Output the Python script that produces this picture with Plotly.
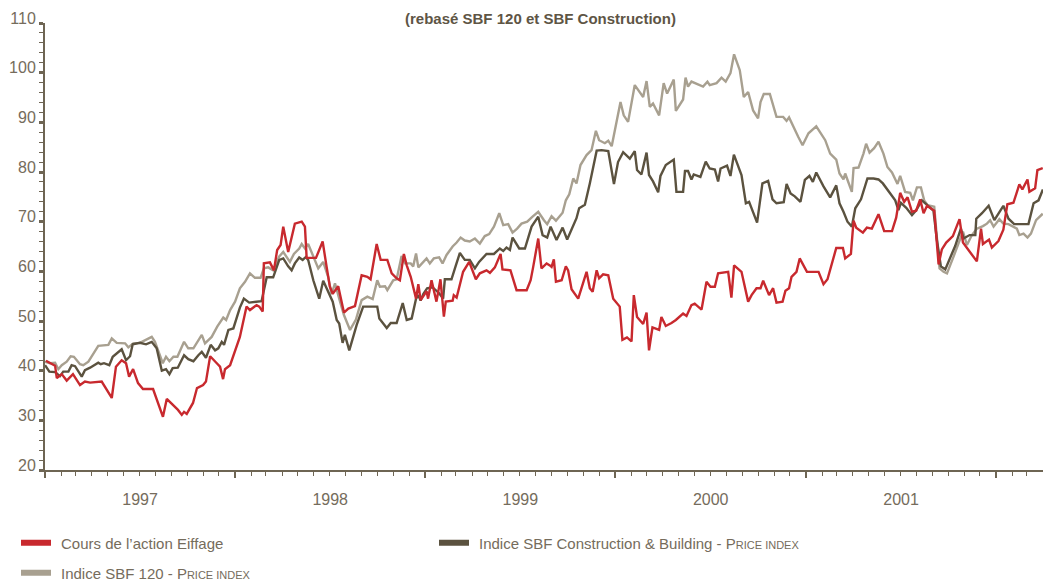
import plotly.graph_objects as go
import pandas as pd

# Decimal-year time stamps and values
red_t = [1997.005,1997.053,1997.062,1997.088,1997.114,1997.147,1997.184,1997.210,1997.237,1997.298,
         1997.351,1997.373,1997.403,1997.426,1997.442,1997.463,1997.489,1997.515,1997.568,1997.620,
         1997.640,1997.666,1997.699,1997.719,1997.731,1997.745,1997.778,1997.799,1997.831,1997.846,
         1997.868,1997.903,1997.920,1997.936,1997.946,1997.973,1998.025,1998.060,1998.078,1998.113,
         1998.127,1998.145,1998.151,1998.183,1998.204,1998.221,1998.239,1998.253,1998.279,1998.314,
         1998.350,1998.367,1998.376,1998.425,1998.460,1998.481,1998.498,1998.513,1998.542,1998.572,
         1998.595,1998.630,1998.665,1998.695,1998.712,1998.744,1998.765,1998.800,1998.823,1998.849,
         1998.866,1998.887,1998.902,1998.923,1998.951,1998.963,1998.975,1998.993,1999.007,1999.015,
         1999.033,1999.059,1999.080,1999.098,1999.108,1999.144,1999.150,1999.165,1999.186,1999.199,
         1999.231,1999.243,1999.266,1999.287,1999.322,1999.340,1999.366,1999.396,1999.406,1999.448,
         1999.480,1999.533,1999.554,1999.567,1999.594,1999.611,1999.638,1999.655,1999.664,1999.676,
         1999.687,1999.717,1999.739,1999.751,1999.769,1999.804,1999.827,1999.848,1999.865,1999.880,
         1999.901,1999.914,1999.935,1999.962,1999.988,2000.023,2000.037,2000.061,2000.085,2000.097,
         2000.114,2000.146,2000.164,2000.177,2000.195,2000.230,2000.242,2000.265,2000.295,2000.318,
         2000.356,2000.374,2000.400,2000.417,2000.453,2000.479,2000.500,2000.523,2000.540,2000.593,
         2000.610,2000.624,2000.663,2000.698,2000.716,2000.742,2000.763,2000.777,2000.808,2000.829,
         2000.847,2000.879,2000.894,2000.913,2000.926,2000.952,2000.969,2001.005,2001.066,2001.092,
         2001.113,2001.159,2001.194,2001.206,2001.236,2001.250,2001.264,2001.299,2001.320,2001.346,
         2001.381,2001.411,2001.452,2001.474,2001.495,2001.516,2001.534,2001.557,2001.579,2001.600,
         2001.618,2001.636,2001.674,2001.697,2001.714,2001.737,2001.772,2001.807,2001.825,2001.860,
         2001.898,2001.920,2001.930,2001.962,2001.977,2002.012,2002.038,2002.059,2002.091,2002.122,
         2002.138,2002.165,2002.175,2002.205,2002.217,2002.245]
red_v = [42.0,41.0,38.5,39.3,38.0,39.3,37.1,37.8,37.6,37.8,
         34.5,40.8,42.1,41.5,38.8,40.3,37.5,36.3,36.3,30.7,
         34.3,33.3,32.1,31.1,31.7,31.3,33.5,36.5,37.1,37.8,
         42.9,41.5,40.8,38.3,40.3,41.1,46.8,52.9,52.2,53.2,
         52.9,51.9,61.6,61.8,60.2,64.3,65.3,69.0,63.9,69.6,
         70.0,69.0,62.7,62.7,66.0,60.9,56.9,55.5,57.0,51.7,
         52.5,53.0,59.2,58.9,58.4,65.5,62.3,62.3,59.6,58.6,
         58.2,63.5,61.2,58.9,54.5,57.4,54.2,55.2,56.0,54.5,
         58.2,53.9,58.4,50.9,53.9,54.1,55.2,54.7,58.2,59.9,
         61.9,60.6,58.4,59.6,60.2,59.7,60.8,63.5,60.4,60.2,
         56.2,56.2,58.2,60.8,66.6,60.6,61.6,61.2,60.9,62.4,
         57.9,58.2,61.0,60.2,56.4,54.5,57.6,59.9,56.6,55.9,
         60.2,58.6,59.4,59.2,54.5,52.9,46.2,46.7,45.9,55.2,
         50.8,49.4,51.7,44.1,48.7,48.2,50.8,49.0,49.6,50.2,
         51.5,51.0,53.2,53.5,52.3,57.9,56.9,56.9,59.6,59.9,
         54.7,61.2,59.9,53.9,55.2,56.6,56.6,58.1,55.2,56.6,
         53.7,53.9,56.1,56.6,58.9,59.9,62.6,59.9,59.9,57.4,
         58.4,64.7,64.7,62.6,63.5,70.2,68.8,67.8,68.8,68.6,
         71.5,68.1,68.1,70.8,75.8,74.0,74.9,72.0,72.2,74.5,
         71.7,73.2,72.2,61.4,64.4,65.8,67.1,70.5,65.8,64.0,
         62.0,68.6,65.5,66.4,64.8,66.1,68.4,73.5,73.8,77.5,
         76.5,78.5,76.0,76.7,80.4,80.8]

dark_t = [1997.000,1997.023,1997.053,1997.079,1997.096,1997.123,1997.140,1997.158,1997.193,1997.210,
          1997.237,1997.280,1997.293,1997.310,1997.338,1997.356,1997.403,1997.426,1997.447,1997.461,
          1997.499,1997.531,1997.561,1997.587,1997.614,1997.636,1997.654,1997.671,1997.698,1997.731,
          1997.753,1997.780,1997.806,1997.824,1997.846,1997.871,1997.894,1997.911,1997.929,1997.941,
          1997.964,1997.990,1998.025,1998.046,1998.074,1998.121,1998.139,1998.166,1998.200,1998.232,
          1998.253,1998.279,1998.297,1998.314,1998.337,1998.355,1998.372,1998.384,1998.411,1998.442,
          1998.463,1998.513,1998.534,1998.547,1998.565,1998.577,1998.600,1998.639,1998.673,1998.747,
          1998.758,1998.797,1998.818,1998.849,1998.866,1998.881,1998.902,1998.928,1998.951,1998.963,
          1998.975,1998.989,1999.010,1999.038,1999.073,1999.094,1999.103,1999.138,1999.161,1999.182,
          1999.208,1999.234,1999.261,1999.283,1999.322,1999.361,1999.392,1999.410,1999.427,1999.445,
          1999.459,1999.494,1999.524,1999.559,1999.594,1999.617,1999.641,1999.659,1999.690,1999.722,
          1999.746,1999.774,1999.795,1999.809,1999.839,1999.865,1999.901,1999.927,1999.962,1999.992,
          2000.014,2000.041,2000.076,2000.102,2000.114,2000.137,2000.164,2000.177,2000.198,2000.225,
          2000.237,2000.265,2000.307,2000.321,2000.356,2000.366,2000.382,2000.400,2000.412,2000.447,
          2000.475,2000.496,2000.523,2000.540,2000.553,2000.587,2000.605,2000.623,2000.663,2000.686,
          2000.703,2000.745,2000.773,2000.803,2000.826,2000.847,2000.885,2000.900,2000.921,2000.943,
          2000.973,2000.996,2001.018,2001.036,2001.054,2001.092,2001.127,2001.159,2001.176,2001.197,
          2001.218,2001.241,2001.259,2001.289,2001.323,2001.355,2001.381,2001.404,2001.443,2001.469,
          2001.486,2001.499,2001.527,2001.557,2001.579,2001.609,2001.639,2001.670,2001.688,2001.709,
          2001.732,2001.754,2001.784,2001.814,2001.828,2001.860,2001.890,2001.895,2001.925,2001.960,
          2001.990,2002.038,2002.065,2002.095,2002.170,2002.197,2002.223,2002.246]
dark_v = [41.1,39.8,39.7,38.9,39.8,39.8,41.1,40.9,38.8,40.1,
          40.6,41.6,41.3,41.5,41.1,42.8,44.3,42.1,42.9,45.3,
          45.6,45.3,45.8,44.5,40.0,40.3,39.3,40.5,40.6,43.1,
          42.3,41.9,43.1,43.8,42.6,45.2,44.1,44.5,45.8,45.2,
          48.2,48.5,52.7,54.5,53.7,53.9,54.0,58.8,58.8,62.3,
          62.6,61.0,60.2,61.6,62.8,62.3,62.9,62.3,58.2,54.5,
          58.1,53.9,50.2,49.5,45.6,47.2,44.1,49.2,52.9,52.9,
          50.5,48.6,49.6,49.6,51.9,53.6,50.2,50.5,54.5,55.2,
          54.1,55.4,56.6,56.8,55.6,54.5,58.4,58.4,61.2,63.7,
          62.3,62.3,60.6,61.9,63.5,63.5,64.6,64.1,64.8,64.3,
          66.8,64.6,64.6,69.0,71.0,67.3,66.8,69.0,66.3,68.8,
          66.4,69.0,70.7,72.7,73.4,77.7,84.3,84.4,84.2,77.6,
          82.0,84.0,82.7,84.2,80.4,79.5,83.9,79.4,78.1,75.9,
          79.2,81.4,82.5,76.0,76.0,80.2,80.2,78.5,79.5,79.0,
          82.1,80.7,80.5,78.1,80.7,81.3,79.2,83.5,79.4,73.7,
          74.0,69.8,77.7,78.2,74.5,73.7,73.9,77.6,75.7,75.1,
          74.0,78.4,79.2,78.0,79.9,77.1,74.9,77.3,73.7,72.0,
          70.0,69.0,72.7,74.5,78.7,78.7,78.5,77.7,75.7,74.3,
          72.3,73.8,72.8,71.3,72.3,74.3,73.3,72.2,66.3,61.0,
          60.4,62.3,65.1,68.6,66.6,67.3,67.3,70.6,71.7,73.2,
          70.3,73.2,70.6,69.5,69.5,73.7,74.3,76.5]

gray_t = [1997.000,1997.026,1997.053,1997.070,1997.088,1997.114,1997.135,1997.152,1997.184,1997.201,
          1997.228,1997.280,1997.333,1997.351,1997.377,1997.421,1997.438,1997.464,1997.499,1997.535,
          1997.561,1997.578,1997.605,1997.619,1997.636,1997.654,1997.675,1997.696,1997.731,1997.753,
          1997.780,1997.801,1997.824,1997.841,1997.876,1997.906,1997.937,1997.952,1997.973,1997.999,
          1998.025,1998.052,1998.078,1998.104,1998.134,1998.151,1998.174,1998.200,1998.232,1998.253,
          1998.288,1998.309,1998.337,1998.350,1998.367,1998.384,1998.411,1998.437,1998.463,1998.489,
          1998.507,1998.525,1998.547,1998.572,1998.604,1998.635,1998.665,1998.695,1998.723,1998.747,
          1998.761,1998.788,1998.800,1998.831,1998.849,1998.875,1998.893,1998.923,1998.936,1998.951,
          1998.963,1998.989,1999.007,1999.024,1999.045,1999.073,1999.091,1999.112,1999.144,1999.165,
          1999.186,1999.208,1999.234,1999.261,1999.287,1999.313,1999.336,1999.361,1999.389,1999.410,
          1999.436,1999.459,1999.483,1999.506,1999.536,1999.564,1999.594,1999.624,1999.641,1999.664,
          1999.687,1999.722,1999.739,1999.757,1999.778,1999.795,1999.816,1999.848,1999.874,1999.897,
          1999.914,1999.944,1999.962,1999.980,2000.027,2000.044,2000.067,2000.102,2000.146,2000.164,
          2000.181,2000.198,2000.230,2000.254,2000.272,2000.307,2000.318,2000.356,2000.369,2000.382,
          2000.400,2000.461,2000.484,2000.496,2000.532,2000.558,2000.580,2000.605,2000.624,2000.654,
          2000.675,2000.698,2000.724,2000.750,2000.763,2000.780,2000.812,2000.847,2000.882,2000.900,
          2000.913,2000.961,2000.984,2001.013,2001.054,2001.101,2001.127,2001.159,2001.176,2001.197,
          2001.206,2001.241,2001.250,2001.276,2001.302,2001.316,2001.334,2001.358,2001.381,2001.407,
          2001.428,2001.452,2001.481,2001.495,2001.521,2001.548,2001.562,2001.583,2001.604,2001.621,
          2001.639,2001.674,2001.702,2001.723,2001.741,2001.772,2001.797,2001.825,2001.846,2001.872,
          2001.898,2001.930,2001.951,2001.968,2001.986,2002.017,2002.038,2002.065,2002.109,2002.122,
          2002.144,2002.165,2002.183,2002.210,2002.245]
gray_v = [41.8,41.5,41.6,40.3,41.1,41.8,42.9,42.8,41.3,41.1,
          41.8,45.0,45.2,46.5,45.6,45.5,44.7,45.5,45.6,46.3,
          46.8,45.8,42.8,41.5,42.8,41.9,42.8,42.8,45.8,44.5,
          44.5,45.8,47.2,45.5,46.8,48.9,50.7,50.2,52.2,53.9,
          56.6,57.9,59.6,58.7,58.7,60.6,60.8,60.2,63.0,63.9,
          61.9,63.5,64.6,65.5,64.6,65.5,62.9,60.6,61.9,58.9,
          55.4,57.6,54.5,51.2,48.2,50.3,54.2,54.9,54.4,58.2,
          56.9,57.0,56.2,58.2,58.4,63.1,61.6,61.6,61.0,63.6,
          60.8,61.9,62.6,61.6,62.6,62.8,61.6,63.3,65.0,65.8,
          66.8,66.2,66.0,66.6,65.6,67.1,67.5,69.0,71.7,69.3,
          69.5,67.8,68.6,69.6,70.0,71.0,72.0,70.3,69.5,71.1,
          70.2,71.8,74.3,75.5,78.7,77.7,81.4,83.4,84.4,88.3,
          86.4,85.8,86.3,85.2,94.1,91.4,90.1,97.5,95.1,98.3,
          93.1,93.8,91.4,97.9,95.8,98.6,92.3,94.6,99.0,97.2,
          98.2,97.2,98.2,97.5,97.9,99.0,98.2,99.9,103.7,100.5,
          95.1,96.1,92.4,90.8,94.1,95.7,95.7,91.1,91.1,90.3,
          91.0,87.1,85.4,87.8,89.2,86.4,83.7,82.5,79.7,78.5,
          79.7,76.0,80.8,80.9,83.7,85.7,83.9,84.8,86.1,83.7,
          81.0,79.9,77.6,79.2,76.0,75.8,74.3,76.9,76.9,74.3,
          73.3,73.0,60.6,59.9,59.6,62.6,65.1,68.0,65.3,67.3,
          68.6,69.1,69.6,70.3,69.0,70.5,69.6,69.5,68.6,67.3,
          67.6,66.8,67.6,70.3,71.6]

series_names = [
    "\u2004Cours de l’action Eiffage",
    "\u2004Indice SBF Construction &amp; Building - P<span style='font-size:11px'>RICE INDEX</span>",
    "\u2004Indice SBF 120 - P<span style='font-size:11px'>RICE INDEX</span>",
]
y_ticks = [20, 30, 40, 50, 60, 70, 80, 90, 100, 110]
title_text = "<b>(rebasé SBF 120 et SBF Construction)</b>"

RED = "#c8292e"
DARK = "#5b523f"
GRAY = "#a8a090"
AXIS = "#6e6553"
TXT = "#756c5c"
FONT = "Liberation Sans, Arial, sans-serif"


def to_dates(ts):
    out = []
    for t in ts:
        y = int(t)
        out.append(pd.Timestamp(f"{y}-01-01") + pd.Timedelta(days=(t - y) * 365.25))
    return out


fig = go.Figure()
# draw order: gray (back), dark, red (front)
for t, v, c in [(gray_t, gray_v, GRAY), (dark_t, dark_v, DARK), (red_t, red_v, RED)]:
    fig.add_trace(go.Scatter(x=to_dates(t), y=v, mode="lines",
                             line=dict(color=c, width=2.4), showlegend=False,
                             hoverinfo="skip"))

# legend entries
for name, c, lg in [(series_names[0], RED, "legend"), (series_names[1], DARK, "legend"),
                    (series_names[2], GRAY, "legend2")]:
    fig.add_trace(go.Scatter(x=[None], y=[None], mode="lines", name=name,
                             line=dict(color=c, width=6), legend=lg))

fig.add_annotation(text=title_text, xref="paper", yref="paper",
                   x=(540 - 45) / 998, y=1 + (23 - 18) / 447,
                   xanchor="center", yanchor="middle", showarrow=False,
                   font=dict(family=FONT, size=15, color="#5e5545"))

fig.update_layout(
    width=1043, height=581,
    margin=dict(l=45, r=0, t=23, b=111, autoexpand=False),
    paper_bgcolor="white", plot_bgcolor="white",
    font=dict(family=FONT, color=TXT, size=15),
    legend=dict(orientation="h", xref="container", yref="container",
                x=16 / 1043, y=1 - 543 / 581, xanchor="left", yanchor="middle",
                entrywidth=373, entrywidthmode="pixels",
                font=dict(family=FONT, size=15, color=TXT),
                bgcolor="rgba(0,0,0,0)", borderwidth=0),
    legend2=dict(orientation="h", xref="container", yref="container",
                 x=16 / 1043, y=1 - 573 / 581, xanchor="left", yanchor="middle",
                 font=dict(family=FONT, size=15, color=TXT),
                 bgcolor="rgba(0,0,0,0)", borderwidth=0),
    xaxis=dict(
        type="date", range=["1997-01-01", "2002-04-01"],
        dtick="M12", tick0="1997-01-01", tickformat="%Y", ticklabelmode="period",
        ticks="outside", ticklen=6, tickwidth=2, tickcolor=AXIS,
        minor=dict(dtick="M1", ticks="outside", ticklen=4, tickwidth=1, tickcolor=AXIS),
        showline=True, linecolor=AXIS, linewidth=2,
        showgrid=False, zeroline=False, automargin=False,
        tickfont=dict(family=FONT, size=16, color=TXT),
        ticklabelstandoff=8,
    ),
    yaxis=dict(
        range=[20, 110], tickvals=y_ticks,
        ticks="outside", ticklen=4, tickwidth=3, tickcolor=AXIS,
        minor=dict(dtick=2, ticks="outside", ticklen=4, tickwidth=1, tickcolor=AXIS),
        showline=True, linecolor=AXIS, linewidth=2,
        showgrid=False, zeroline=False, automargin=False,
        tickfont=dict(family=FONT, size=16, color=TXT),
        ticklabelshift=-5,
    ),
)

fig.write_html("out.html", config={"displayModeBar": False},
               post_script="document.body.style.margin='0';document.body.style.padding='0';")
